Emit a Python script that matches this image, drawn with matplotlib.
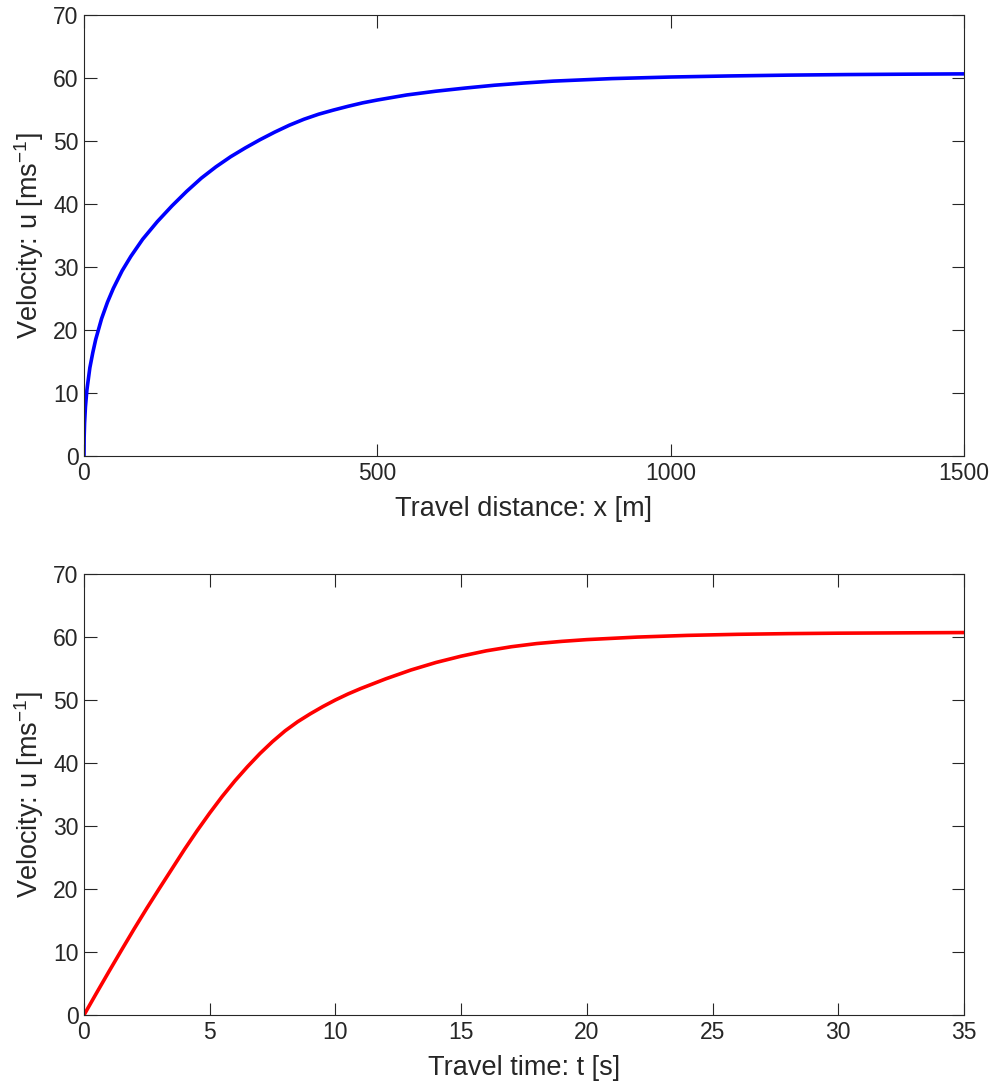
"""Velocity vs distance and time for a body accelerating to terminal speed."""

import matplotlib

matplotlib.use("Agg")
import matplotlib.pyplot as plt

# values
distance_m = [0, 0.3, 1, 2.5, 5, 10, 15, 20, 30, 40, 50, 65, 80, 100, 125, 150, 175, 200,
              225, 250, 275, 300, 325, 350, 375, 400, 425, 450, 475, 500, 550, 600, 650,
              700, 750, 800, 900, 1000, 1100, 1200, 1300, 1400, 1500]
velocity_x = [0, 3.0, 5.2, 7.8, 10.5, 14.0, 16.4, 18.5, 21.8, 24.4, 26.6, 29.4, 31.7, 34.4,
              37.2, 39.7, 42.0, 44.1, 45.9, 47.5, 48.9, 50.2, 51.4, 52.5, 53.45, 54.25,
              54.9, 55.5, 56.05, 56.5, 57.3, 57.9, 58.4, 58.85, 59.2, 59.5, 59.9, 60.15,
              60.32, 60.45, 60.54, 60.6, 60.65]

time_s = [0, 0.5, 1, 1.5, 2, 2.5, 3, 3.5, 4, 4.5, 5, 5.5, 6, 6.5, 7, 7.5, 8, 8.5, 9, 9.5,
          10, 10.5, 11, 12, 13, 14, 15, 16, 17, 18, 19, 20, 22, 24, 26, 28, 30, 32.5, 35]
velocity_t = [0, 3.5, 6.95, 10.35, 13.7, 16.95, 20.1, 23.2, 26.3, 29.25, 32.05, 34.7,
              37.15, 39.4, 41.5, 43.4, 45.1, 46.55, 47.8, 48.95, 50.0, 50.95, 51.8, 53.35,
              54.75, 55.95, 56.95, 57.8, 58.45, 58.95, 59.3, 59.58, 59.98, 60.25, 60.42,
              60.53, 60.6, 60.65, 60.7]

x_ticks = [0, 500, 1000, 1500]
t_ticks = [0, 5, 10, 15, 20, 25, 30, 35]
u_ticks = [0, 10, 20, 30, 40, 50, 60, 70]

TEXT = "#262626"
plt.rcParams["font.family"] = ["Liberation Sans", "DejaVu Sans"]
plt.rcParams["mathtext.default"] = "regular"

fig = plt.figure(figsize=(9.95, 10.92), dpi=100)
ax_top = fig.add_axes([0.0844, 0.5824, 0.8844, 0.4039])
ax_bot = fig.add_axes([0.0844, 0.0705, 0.8844, 0.4039])


def style(ax, xticks, xmax, xlabel):
    ax.set_xlim(0, xmax)
    ax.set_ylim(0, 70)
    ax.set_xticks(xticks)
    ax.set_yticks(u_ticks)
    ax.tick_params(direction="in", length=9, width=0.8, color=TEXT, labelcolor=TEXT,
                   top=True, right=True, labelsize=16.5, pad=4)
    for spine in ax.spines.values():
        spine.set_color(TEXT)
        spine.set_linewidth(0.8)
    ax.set_xlabel(xlabel, color=TEXT, fontsize=19.5, labelpad=8)
    ax.set_ylabel("Velocity: u [ms$^{-1}$]", color=TEXT, fontsize=19.5, labelpad=5)


ax_top.plot(distance_m, velocity_x, color="#0000FF", linewidth=2.6)
style(ax_top, x_ticks, 1500, "Travel distance: x [m]")

ax_bot.plot(time_s, velocity_t, color="#FF0000", linewidth=2.6)
style(ax_bot, t_ticks, 35, "Travel time: t [s]")

fig.savefig("out.png", dpi=100)
